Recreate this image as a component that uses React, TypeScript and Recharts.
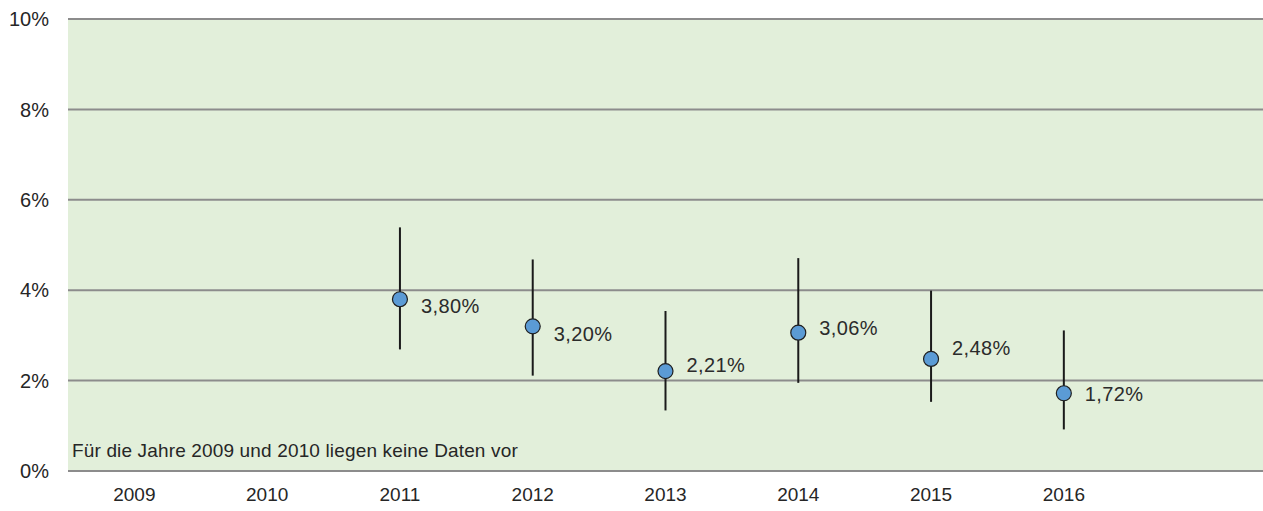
import {
  ComposedChart,
  Line,
  ErrorBar,
  XAxis,
  YAxis,
  CartesianGrid,
  LabelList,
} from "recharts";

// years on the x axis (last slot is empty, as in the original)
const years = ["2009", "2010", "2011", "2012", "2013", "2014", "2015", "2016", ""];
// point estimate and the range around it, in percent
const rates = [null, null, 3.8, 3.2, 2.21, 3.06, 2.48, 1.72, null];
const lower = [null, null, 2.69, 2.11, 1.34, 1.95, 1.53, 0.92, null];
const upper = [null, null, 5.39, 4.68, 3.54, 4.71, 3.99, 3.11, null];
const yTicks = [0, 2, 4, 6, 8, 10];
const note = "Für die Jahre 2009 und 2010 liegen keine Daten vor";

// small vertical nudges of the value labels, as placed in the original
const labelDy = [0, 0, 7, 7, -6, -5, -11, 1, 0];

const FONT = "'Liberation Sans', Arial, sans-serif";

const data = years.map((year, i) => {
  const r = rates[i];
  const lo = lower[i];
  const hi = upper[i];
  return {
    year,
    rate: r,
    err: r == null || lo == null || hi == null ? null : [r - lo, hi - r],
  };
});

const fmtPct = (v: number) => v.toFixed(2).replace(".", ",") + "%";

const PctLabel = (props: any) => {
  const { x, y, value, index } = props;
  if (value == null || x == null || y == null) return null;
  const fs = 20;
  return (
    <text
      x={x + 21}
      y={y + labelDy[index] + fs * 0.36}
      fontSize={fs}
      fontFamily={FONT}
      letterSpacing={0.4}
      fill="#2b2b2b"
    >
      {fmtPct(value)}
    </text>
  );
};

export default function App() {
  return (
    <div style={{ position: "absolute", left: 0, top: 0, width: 1263, height: 511, fontFamily: FONT }}>
      <ComposedChart
        width={1263}
        height={511}
        data={data}
        margin={{ top: 19, right: 0, bottom: 0, left: 0 }}
      >
        <CartesianGrid
          vertical={false}
          stroke="#8c8c8c"
          strokeWidth={2}
          fill="#e2efda"
          fillOpacity={1}
        />
        <XAxis
          dataKey="year"
          scale="band"
          axisLine={false}
          tickLine={false}
          tickSize={0}
          tickMargin={17}
          height={40}
          interval={0}
          tick={{ fill: "#262626", fontSize: 19, fontFamily: FONT }}
        />
        <YAxis
          type="number"
          domain={[0, 10]}
          ticks={yTicks}
          width={68}
          axisLine={false}
          tickLine={false}
          tickSize={0}
          tickMargin={19}
          tickFormatter={(v) => `${v}%`}
          tick={{ fill: "#262626", fontSize: 20, fontFamily: FONT }}
        />
        <Line
          dataKey="rate"
          stroke="none"
          dot={false}
          activeDot={false}
          isAnimationActive={false}
        >
          <ErrorBar dataKey="err" width={0} strokeWidth={2} stroke="#1a1a1a" isAnimationActive={false} />
        </Line>
        <Line
          dataKey="rate"
          stroke="none"
          dot={{ r: 7.5, fill: "#5b9bd5", stroke: "#1f1f1f", strokeWidth: 1.2 }}
          activeDot={false}
          isAnimationActive={false}
        >
          <LabelList dataKey="rate" content={PctLabel} />
        </Line>
      </ComposedChart>
      <div
        style={{
          position: "absolute",
          left: 72,
          top: 441,
          fontSize: 19,
          lineHeight: "19px",
          letterSpacing: 0.15,
          color: "#262626",
          whiteSpace: "nowrap",
        }}
      >
        {note}
      </div>
    </div>
  );
}
